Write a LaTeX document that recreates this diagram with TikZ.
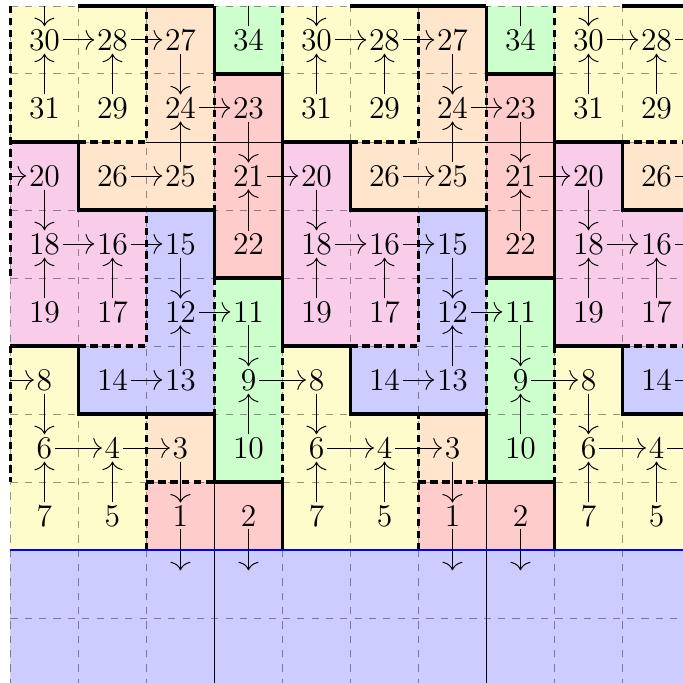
\documentclass[tikz,border=0pt]{standalone}
\usetikzlibrary{arrows.meta}

\colorlet{tileyellow}{yellow!20}
\colorlet{tilepeach}{orange!20}
\colorlet{tilered}{red!20}
\colorlet{tilegreen}{green!20}
\colorlet{tileblue}{blue!20}
\definecolor{tilepink}{RGB}{249,205,233}

\tikzset{
  num/.style={font=\fontsize{13.2pt}{16pt}\selectfont, inner sep=1pt},
  cellgrid/.style={draw=black, opacity=0.4, dashed, thin},
  wall/.style={line width=1.3pt},
  seam/.style={line width=1.4pt, densely dashed},
  cut/.style={draw=black, thin},
}

\begin{document}
\begin{tikzpicture}[>={Computer Modern Rightarrow[length=3.6pt, width=8.4pt]}]
  \useasboundingbox (-0.154,-1.956) rectangle (9.89,8.088);
  \clip (-0.154,-1.956) rectangle (9.89,8.088);

  % floor
  \fill[tileblue] (0,-2) rectangle (12,0);

  % tiles of one period, repeated every 4 columns
  \foreach \k in {0,1,2} {
    \begin{scope}[xshift=4*\k cm]
      \fill[tileyellow] (0,6) rectangle (2,8);
      \fill[tileyellow] (0,0) rectangle (1,3);
      \fill[tileyellow] (1,0) rectangle (2,2);
      \fill[tilepeach] (2,5) rectangle (3,8);
      \fill[tilepeach] (1,5) rectangle (2,6);
      \fill[tilepeach] (2,1) rectangle (3,2);
      \fill[tilegreen] (3,7) rectangle (4,8);
      \fill[tilegreen] (3,1) rectangle (4,4);
      \fill[tilered] (3,4) rectangle (4,7);
      \fill[tilered] (2,0) rectangle (4,1);
      \fill[tilepink] (0,3) rectangle (1,6);
      \fill[tilepink] (1,3) rectangle (2,5);
      \fill[tileblue] (2,2) rectangle (3,5);
      \fill[tileblue] (1,2) rectangle (2,3);
    \end{scope}
  }

  \draw[cellgrid] (0,-2) grid (12,8);

  \foreach \k in {0,1,2} {
    \begin{scope}[xshift=4*\k cm]
      % thin cuts
      \draw[cut] (3,-2) -- (3,1);
      \draw[cut] (2,6) -- (4,6);
      % dashed borders
      \draw[seam] (0,8) -- (0,4);
      \draw[seam] (0,3) -- (0,1);
      \draw[seam] (4,8) -- (4,7);
      \draw[seam] (4,6) -- (4,4);
      \draw[seam] (4,3) -- (4,1);
      \draw[seam] (1,6) -- (2,6) -- (2,8);
      \draw[seam] (3,7) -- (3,5);
      \draw[seam] (1,3) -- (2,3) -- (2,5);
      \draw[seam] (3,4) -- (3,2);
      \draw[seam] (2,0) -- (2,2);
      \draw[seam] (2,1) -- (3,1);
      % solid borders
      \draw[wall] (1,8) -- (3,8);
      \draw[wall] (3,8) -- (3,7) -- (4,7) -- (4,6);
      \draw[wall] (0,6) -- (1,6) -- (1,5) -- (3,5) -- (3,4) -- (4,4) -- (4,3);
      \draw[wall] (0,3) -- (1,3) -- (1,2) -- (3,2) -- (3,1) -- (4,1) -- (4,0);
    \end{scope}
  }

  \draw[blue, semithick] (0,0) -- (12,0);

  % numbers
  \foreach \k in {0,1,2} {
    \begin{scope}[xshift=4*\k cm]
      \node[num] (n30-\k) at (0.5,7.5) {30};
      \node[num] (n28-\k) at (1.5,7.5) {28};
      \node[num] (n27-\k) at (2.5,7.5) {27};
      \node[num] (n34-\k) at (3.5,7.5) {34};
      \node[num] (n31-\k) at (0.5,6.5) {31};
      \node[num] (n29-\k) at (1.5,6.5) {29};
      \node[num] (n24-\k) at (2.5,6.5) {24};
      \node[num] (n23-\k) at (3.5,6.5) {23};
      \node[num] (n20-\k) at (0.5,5.5) {20};
      \node[num] (n26-\k) at (1.5,5.5) {26};
      \node[num] (n25-\k) at (2.5,5.5) {25};
      \node[num] (n21-\k) at (3.5,5.5) {21};
      \node[num] (n18-\k) at (0.5,4.5) {18};
      \node[num] (n16-\k) at (1.5,4.5) {16};
      \node[num] (n15-\k) at (2.5,4.5) {15};
      \node[num] (n22-\k) at (3.5,4.5) {22};
      \node[num] (n19-\k) at (0.5,3.5) {19};
      \node[num] (n17-\k) at (1.5,3.5) {17};
      \node[num] (n12-\k) at (2.5,3.5) {12};
      \node[num] (n11-\k) at (3.5,3.5) {11};
      \node[num] (n8-\k) at (0.5,2.5) {8};
      \node[num] (n14-\k) at (1.5,2.5) {14};
      \node[num] (n13-\k) at (2.5,2.5) {13};
      \node[num] (n9-\k) at (3.5,2.5) {9};
      \node[num] (n6-\k) at (0.5,1.5) {6};
      \node[num] (n4-\k) at (1.5,1.5) {4};
      \node[num] (n3-\k) at (2.5,1.5) {3};
      \node[num] (n10-\k) at (3.5,1.5) {10};
      \node[num] (n7-\k) at (0.5,0.5) {7};
      \node[num] (n5-\k) at (1.5,0.5) {5};
      \node[num] (n1-\k) at (2.5,0.5) {1};
      \node[num] (n2-\k) at (3.5,0.5) {2};
      \coordinate (top30-\k) at (0.5,8);
      \coordinate (top34-\k) at (3.5,8);
      \coordinate (out1-\k) at (2.5,-0.3);
      \coordinate (out2-\k) at (3.5,-0.3);

      \draw[->] (top30-\k) -- (n30-\k);
      \draw (n34-\k) -- (top34-\k);
      \draw[->] (n31-\k) -- (n30-\k);
      \draw[->] (n30-\k) -- (n28-\k);
      \draw[->] (n29-\k) -- (n28-\k);
      \draw[->] (n28-\k) -- (n27-\k);
      \draw[->] (n27-\k) -- (n24-\k);
      \draw[->] (n25-\k) -- (n24-\k);
      \draw[->] (n26-\k) -- (n25-\k);
      \draw[->] (n24-\k) -- (n23-\k);
      \draw[->] (n23-\k) -- (n21-\k);
      \draw[->] (n22-\k) -- (n21-\k);
      \draw[->] (n20-\k) -- (n18-\k);
      \draw[->] (n19-\k) -- (n18-\k);
      \draw[->] (n18-\k) -- (n16-\k);
      \draw[->] (n17-\k) -- (n16-\k);
      \draw[->] (n16-\k) -- (n15-\k);
      \draw[->] (n15-\k) -- (n12-\k);
      \draw[->] (n13-\k) -- (n12-\k);
      \draw[->] (n14-\k) -- (n13-\k);
      \draw[->] (n12-\k) -- (n11-\k);
      \draw[->] (n11-\k) -- (n9-\k);
      \draw[->] (n10-\k) -- (n9-\k);
      \draw[->] (n8-\k) -- (n6-\k);
      \draw[->] (n7-\k) -- (n6-\k);
      \draw[->] (n6-\k) -- (n4-\k);
      \draw[->] (n5-\k) -- (n4-\k);
      \draw[->] (n4-\k) -- (n3-\k);
      \draw[->] (n3-\k) -- (n1-\k);
      \draw[->] (n1-\k) -- (out1-\k);
      \draw[->] (n2-\k) -- (out2-\k);
    \end{scope}
  }

  % arrows between periods
  \coordinate (in20) at (0,5.5);
  \coordinate (in8) at (0,2.5);
  \draw[->] (in20) -- (n20-0);
  \draw[->] (in8) -- (n8-0);
  \foreach \k/\j in {0/1,1/2} {
    \draw[->] (n21-\k) -- (n20-\j);
    \draw[->] (n9-\k) -- (n8-\j);
  }
\end{tikzpicture}
\end{document}
